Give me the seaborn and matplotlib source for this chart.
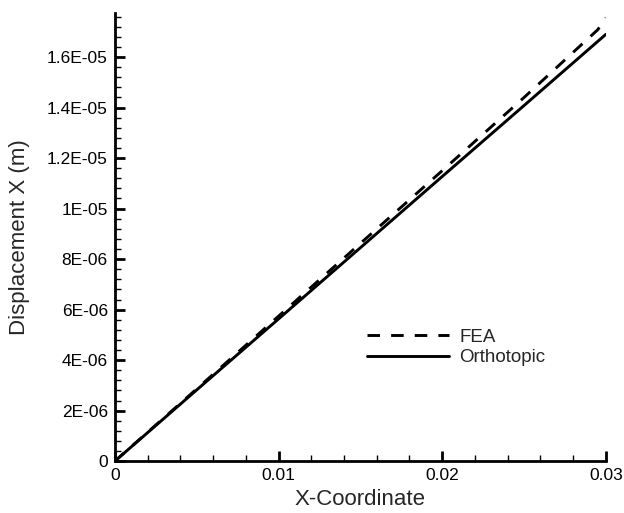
import numpy as np
import pandas as pd
import seaborn as sns
import matplotlib
matplotlib.use("Agg")
import matplotlib.pyplot as plt
from matplotlib.ticker import FuncFormatter, MultipleLocator

# Displacement along the specimen: FEA result vs. orthotropic model
x_fea = [0.0, 0.005, 0.01, 0.015, 0.02, 0.025, 0.0295, 0.03]
u_fea = [0.0, 2.86e-6, 5.74e-6, 8.62e-6, 1.150e-5, 1.440e-5, 1.708e-5, 1.755e-5]

x_orth = [0.0, 0.005, 0.01, 0.015, 0.02, 0.025, 0.03]
u_orth = [0.0, 2.82e-6, 5.63e-6, 8.45e-6, 1.127e-5, 1.408e-5, 1.690e-5]

labels = ["FEA", "Orthotopic"]

df = pd.concat([
    pd.DataFrame({"x": x_fea, "u": u_fea, "series": labels[0]}),
    pd.DataFrame({"x": x_orth, "u": u_orth, "series": labels[1]}),
], ignore_index=True)

sns.set_style("white")
plt.rcParams["font.family"] = ["Liberation Sans", "DejaVu Sans"]

fig = plt.figure(figsize=(6.24, 5.13), dpi=100)
ax = fig.add_axes([0.184, 0.101, 0.787, 0.874])

sns.lineplot(data=df, x="x", y="u", style="series",
             style_order=labels,
             dashes={labels[0]: (4.3, 3.8), labels[1]: ""},
             color="black", linewidth=2.1, sort=False, estimator=None, ax=ax)

ax.set_xlim(0, 0.03)
ax.set_ylim(0, 1.775e-5)

for side in ("top", "right"):
    ax.spines[side].set_visible(False)
for side in ("left", "bottom"):
    ax.spines[side].set_linewidth(2)
    ax.spines[side].set_color("black")

ax.xaxis.set_major_locator(MultipleLocator(0.01))
ax.xaxis.set_minor_locator(MultipleLocator(0.002))
ax.yaxis.set_major_locator(MultipleLocator(2e-6))
ax.yaxis.set_minor_locator(MultipleLocator(4e-7))


def fmt_x(v, pos):
    if abs(v) < 1e-12:
        return "0"
    return f"{v:.2f}"


def fmt_y(v, pos):
    if abs(v) < 1e-15:
        return "0"
    mant, exp = f"{v:.1E}".split("E")
    mant = mant.rstrip("0").rstrip(".")
    return f"{mant}E{exp}"


ax.xaxis.set_major_formatter(FuncFormatter(fmt_x))
ax.yaxis.set_major_formatter(FuncFormatter(fmt_y))

ax.tick_params(which="major", direction="in", length=7, width=2,
               labelsize=12.5, colors="black", pad=5)
ax.tick_params(which="minor", direction="in", length=4, width=1,
               colors="black")
ax.tick_params(axis="x", which="both", bottom=True, top=False)
ax.tick_params(axis="y", which="both", left=True, right=False)

ax.set_xlabel("X-Coordinate", fontsize=16, labelpad=4)
ax.set_ylabel("Displacement X (m)", fontsize=16, labelpad=12)

handles, lbls = ax.get_legend_handles_labels()
ax.legend(handles, lbls, loc="upper left", bbox_to_anchor=(0.513, 0.296),
          frameon=False, fontsize=13.5, handlelength=4.4, handletextpad=0.53,
          labelspacing=0.2, borderpad=0, borderaxespad=0)

fig.savefig("out.png", dpi=100)
